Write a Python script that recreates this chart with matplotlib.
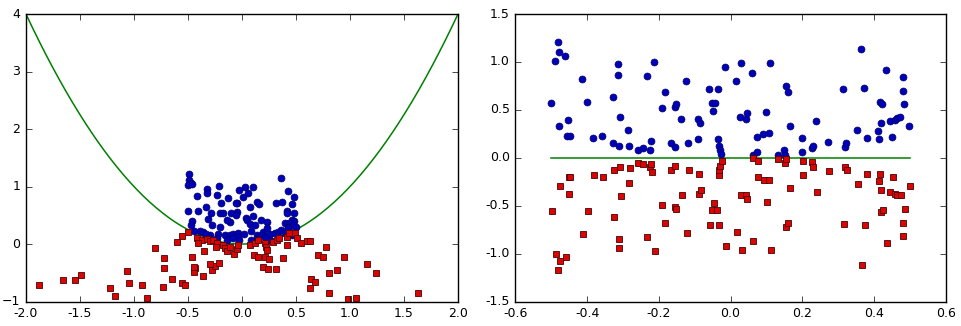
import numpy as np
import matplotlib
matplotlib.use("Agg")
import matplotlib.pyplot as plt

# left panel: original space
left_blue_x = [-0.491, -0.488, -0.475, -0.497, -0.467, -0.213, -0.324, -0.321, -0.414, -0.235,
               -0.133, -0.025, 0.028, 0.105, 0.052, 0.012, -0.043, -0.056, -0.195, -0.337,
               -0.497, -0.404, -0.287, -0.204, -0.173, -0.102, -0.043, -0.059, -0.111, -0.136,
               0.142, 0.157, 0.074, 0.037, 0.043, 0.074, 0.105, 0.176, 0.228, 0.358,
               0.429, 0.481, 0.315, 0.367, 0.466, 0.414, 0.414, 0.481, 0.460, 0.481,
               0.398, 0.435, 0.423, 0.469, 0.500, -0.460, -0.475, -0.312, -0.281, -0.389,
               -0.358, -0.442, -0.296, -0.219, -0.157, -0.111, -0.080, -0.034, -0.034, -0.025,
               0.019, 0.083, 0.136, 0.198, 0.182, 0.259, 0.306, 0.336, 0.361, 0.398,
               0.429, 0.444, 0.460, 0.120, 0.228, -0.204, -0.142, -0.080, -0.235, 0.083,
               0.142, 0.213, 0.259, -0.333]
left_blue_y = [1.212, 1.113, 1.055, 1.026, 1.040, 1.009, 0.951, 0.881, 0.835, 0.852,
               0.794, 0.939, 0.986, 0.986, 0.881, 0.823, 0.707, 0.707, 0.707, 0.649,
               0.580, 0.580, 0.545, 0.533, 0.545, 0.533, 0.562, 0.505, 0.389, 0.418,
               0.736, 0.690, 0.649, 0.447, 0.418, 0.348, 0.487, 0.418, 0.377, 1.142,
               0.922, 0.823, 0.707, 0.736, 0.690, 0.580, 0.533, 0.545, 0.418, 0.400,
               0.360, 0.371, 0.302, 0.331, 0.302, 0.400, 0.331, 0.429, 0.331, 0.226,
               0.215, 0.226, 0.157, 0.174, 0.157, 0.157, 0.174, 0.197, 0.128, 0.070,
               0.174, 0.232, 0.157, 0.215, 0.157, 0.174, 0.186, 0.215, 0.244, 0.197,
               0.273, 0.215, 0.157, 0.331, 0.273, 0.302, 0.070, 0.099, 0.099, 0.070,
               0.087, 0.116, 0.070, 0.174]

left_red_x = [-1.880, -1.655, -1.546, -1.488, -1.222, -1.176, -1.068, -1.043, -0.923, -0.880,
              -0.497, -0.559, -0.605, -0.806, -0.722, -0.722, -0.651, -0.735, -0.553, -0.528,
              -0.466, -0.435, -0.445, -0.358, -0.281, -0.250, -0.213, -0.296, -0.349, -0.420,
              -0.374, -0.404, -0.327, -0.296, -0.272, -0.235, -0.241, -0.173, -0.157, -0.142,
              -0.111, -0.071, -0.043, -0.034, 0.074, 0.120, 0.151, 0.213, 0.222, 0.235,
              0.284, 0.321, 0.346, 0.414, 0.438, 0.491, 0.506, 0.420, 0.114, 0.151,
              0.213, 0.253, 0.383, 0.197, 0.244, 0.315, 0.546, 0.599, 0.630, 0.707,
              0.747, 0.778, 0.636, 0.676, 0.630, -0.445, 0.809, 0.809, 0.942, 0.880,
              0.978, 1.056, 1.154, 1.238, 1.630]
left_red_y = [-0.713, -0.626, -0.626, -0.533, -0.760, -0.899, -0.470, -0.673, -0.713, -0.945,
              0.215, 0.139, 0.041, -0.064, -0.238, -0.412, -0.614, -0.753, -0.684, -0.713,
              -0.220, -0.423, -0.481, -0.556, -0.452, -0.383, -0.336, -0.348, -0.116, 0.099,
              0.070, 0.023, 0.081, 0.058, 0.070, 0.012, -0.058, -0.017, -0.075, -0.116,
              -0.058, -0.174, -0.093, -0.017, -0.017, 0.023, 0.070, 0.023, -0.058, -0.104,
              0.041, 0.070, 0.099, 0.116, 0.186, 0.197, 0.099, -0.017, -0.191, -0.220,
              -0.220, -0.261, -0.238, -0.394, -0.441, -0.441, 0.012, 0.052, 0.052, -0.191,
              -0.220, -0.058, -0.614, -0.667, -0.771, -0.394, -0.510, -0.852, -0.220, -0.446,
              -0.962, -0.939, -0.354, -0.510, -0.852]

# boundary curve y = x^2 (polynomial coefficients)
curve_coef = [1.0, 0.0, 0.0]
curve_range = (-2.0, 2.0)

# right panel: transformed space
right_blue_x = [-0.500, -0.482, -0.478, -0.489, -0.462, -0.478, -0.453, -0.455, -0.448, -0.414,
                -0.400, -0.383, -0.358, -0.328, -0.314, -0.314, -0.308, -0.328, -0.310, -0.286,
                -0.282, -0.259, -0.245, -0.226, -0.221, -0.234, -0.213, -0.184, -0.192, -0.156,
                -0.153, -0.167, -0.156, -0.138, -0.119, -0.124, -0.091, -0.085, -0.090, -0.059,
                -0.053, -0.042, -0.048, -0.034, -0.034, -0.033, -0.029, -0.026, -0.015, 0.016,
                0.030, 0.026, 0.042, 0.046, 0.060, 0.064, 0.075, 0.075, 0.090, 0.106,
                0.100, 0.110, 0.131, 0.149, 0.153, 0.154, 0.160, 0.165, 0.200, 0.200,
                0.226, 0.230, 0.239, 0.272, 0.315, 0.319, 0.322, 0.354, 0.363, 0.372,
                0.380, 0.411, 0.414, 0.418, 0.423, 0.419, 0.433, 0.444, 0.451, 0.459,
                0.465, 0.472, 0.480, 0.480, 0.484, 0.498]
right_blue_y = [0.570, 1.203, 1.099, 1.012, 1.057, 0.327, 0.393, 0.230, 0.230, 0.824,
                0.584, 0.205, 0.230, 0.636, 0.974, 0.866, 0.421, 0.150, 0.125, 0.285,
                0.125, 0.084, 0.101, 0.084, 0.178, 0.852, 1.001, 0.689, 0.515, 0.532,
                0.556, 0.150, 0.112, 0.407, 0.150, 0.796, 0.407, 0.365, 0.192, 0.716,
                0.570, 0.570, 0.490, 0.716, 0.192, 0.122, 0.084, 0.042, 0.946, 0.796,
                0.987, 0.421, 0.407, 0.463, 0.880, 0.032, 0.056, 0.219, 0.247, 0.257,
                0.476, 0.987, 0.032, 0.084, 0.032, 0.744, 0.689, 0.327, 0.205, 0.056,
                0.098, 0.125, 0.379, 0.164, 0.716, 0.112, 0.150, 0.285, 1.137, 0.730,
                0.205, 0.275, 0.192, 0.584, 0.556, 0.365, 0.918, 0.379, 0.219, 0.397,
                0.410, 0.421, 0.838, 0.702, 0.556, 0.327]

right_red_x = [-0.499, -0.477, -0.451, -0.448, -0.452, -0.488, -0.476, -0.481, -0.460, -0.413,
               -0.398, -0.380, -0.355, -0.326, -0.308, -0.326, -0.305, -0.312, -0.312, -0.283,
               -0.280, -0.258, -0.243, -0.226, -0.222, -0.218, -0.233, -0.212, -0.190, -0.182,
               -0.165, -0.154, -0.154, -0.151, -0.136, -0.121, -0.117, -0.089, -0.089, -0.082,
               -0.057, -0.047, -0.051, -0.039, -0.032, -0.033, -0.032, -0.029, -0.025, -0.013,
               0.018, 0.028, 0.042, 0.047, 0.033, 0.064, 0.077, 0.077, 0.093, 0.108,
               0.101, 0.062, 0.112, 0.133, 0.153, 0.156, 0.165, 0.156, 0.161, 0.201,
               0.202, 0.227, 0.230, 0.242, 0.274, 0.317, 0.320, 0.324, 0.356, 0.367,
               0.374, 0.381, 0.413, 0.416, 0.420, 0.420, 0.424, 0.436, 0.453, 0.445,
               0.460, 0.465, 0.475, 0.486, 0.482, 0.482, 0.500]
right_red_y = [-0.556, -0.299, -0.205, -0.205, -0.379, -1.001, -1.081, -1.175, -1.039, -0.799,
               -0.556, -0.177, -0.205, -0.129, -0.097, -0.622, -0.396, -0.852, -0.945, -0.261,
               -0.111, -0.059, -0.070, -0.097, -0.070, -0.153, -0.827, -0.973, -0.490, -0.678,
               -0.125, -0.083, -0.518, -0.532, -0.393, -0.786, -0.125, -0.167, -0.379, -0.341,
               -0.706, -0.476, -0.542, -0.542, -0.706, -0.177, -0.125, -0.083, -0.031, -0.921,
               -0.772, -0.393, -0.393, -0.434, -0.959, -0.003, -0.031, -0.205, -0.233, -0.233,
               -0.462, -0.866, -0.959, -0.017, -0.059, -0.017, -0.313, -0.720, -0.678, -0.031,
               -0.177, -0.042, -0.097, -0.355, -0.139, -0.692, -0.097, -0.125, -0.271, -1.123,
               -0.706, -0.167, -0.247, -0.167, -0.341, -0.570, -0.542, -0.893, -0.205, -0.355,
               -0.379, -0.393, -0.393, -0.532, -0.678, -0.813, -0.299]

# separating line in the transformed space
line_x = [-0.5, 0.5]
line_y = [0.0, 0.0]

plt.style.use('classic')
plt.rcParams['font.size'] = 9
plt.rcParams['font.family'] = ['DejaVu Sans']

fig = plt.figure(figsize=(9.61, 3.26), dpi=100, facecolor='white')
ax1 = fig.add_axes([0.027, 0.075, 0.4496, 0.882])
ax2 = fig.add_axes([0.5364, 0.075, 0.4476, 0.882])

blue_style = dict(marker='o', linestyle='none', color=(0, 0, 0.72), markersize=5,
                  markeredgecolor=(0, 0, 0.4), markeredgewidth=0.5)
red_style = dict(marker='s', linestyle='none', color=(0.85, 0.02, 0.02), markersize=5,
                 markeredgecolor=(0.3, 0, 0), markeredgewidth=0.6)

# left: raw points and the parabola
xs = np.linspace(curve_range[0], curve_range[1], 200)
ax1.plot(xs, np.polyval(curve_coef, xs), color='g', linewidth=1.1)
ax1.plot(left_blue_x, left_blue_y, **blue_style)
ax1.plot(left_red_x, left_red_y, **red_style)
ax1.set_xlim(-2, 2)
ax1.set_ylim(-1, 4)
ax1.set_xticks(np.arange(-2, 2.01, 0.5))
ax1.set_xticklabels(['%.1f' % v for v in np.arange(-2, 2.01, 0.5)])
ax1.set_yticks(range(-1, 5))

# right: transformed points and the flat boundary
ax2.plot(line_x, line_y, color='g', linewidth=1.1)
ax2.plot(right_blue_x, right_blue_y, **blue_style)
ax2.plot(right_red_x, right_red_y, **red_style)
ax2.set_xlim(-0.6, 0.6)
ax2.set_ylim(-1.5, 1.5)
ax2.set_xticks(np.arange(-0.6, 0.61, 0.2))
ax2.set_xticklabels(['%.1f' % v for v in np.arange(-0.6, 0.61, 0.2)])
ax2.set_yticks(np.arange(-1.5, 1.51, 0.5))
ax2.set_yticklabels(['%.1f' % v for v in np.arange(-1.5, 1.51, 0.5)])

for ax in (ax1, ax2):
    ax.tick_params(direction='in', length=4, labelsize=9)

fig.savefig('out.png', dpi=100, facecolor='white')
